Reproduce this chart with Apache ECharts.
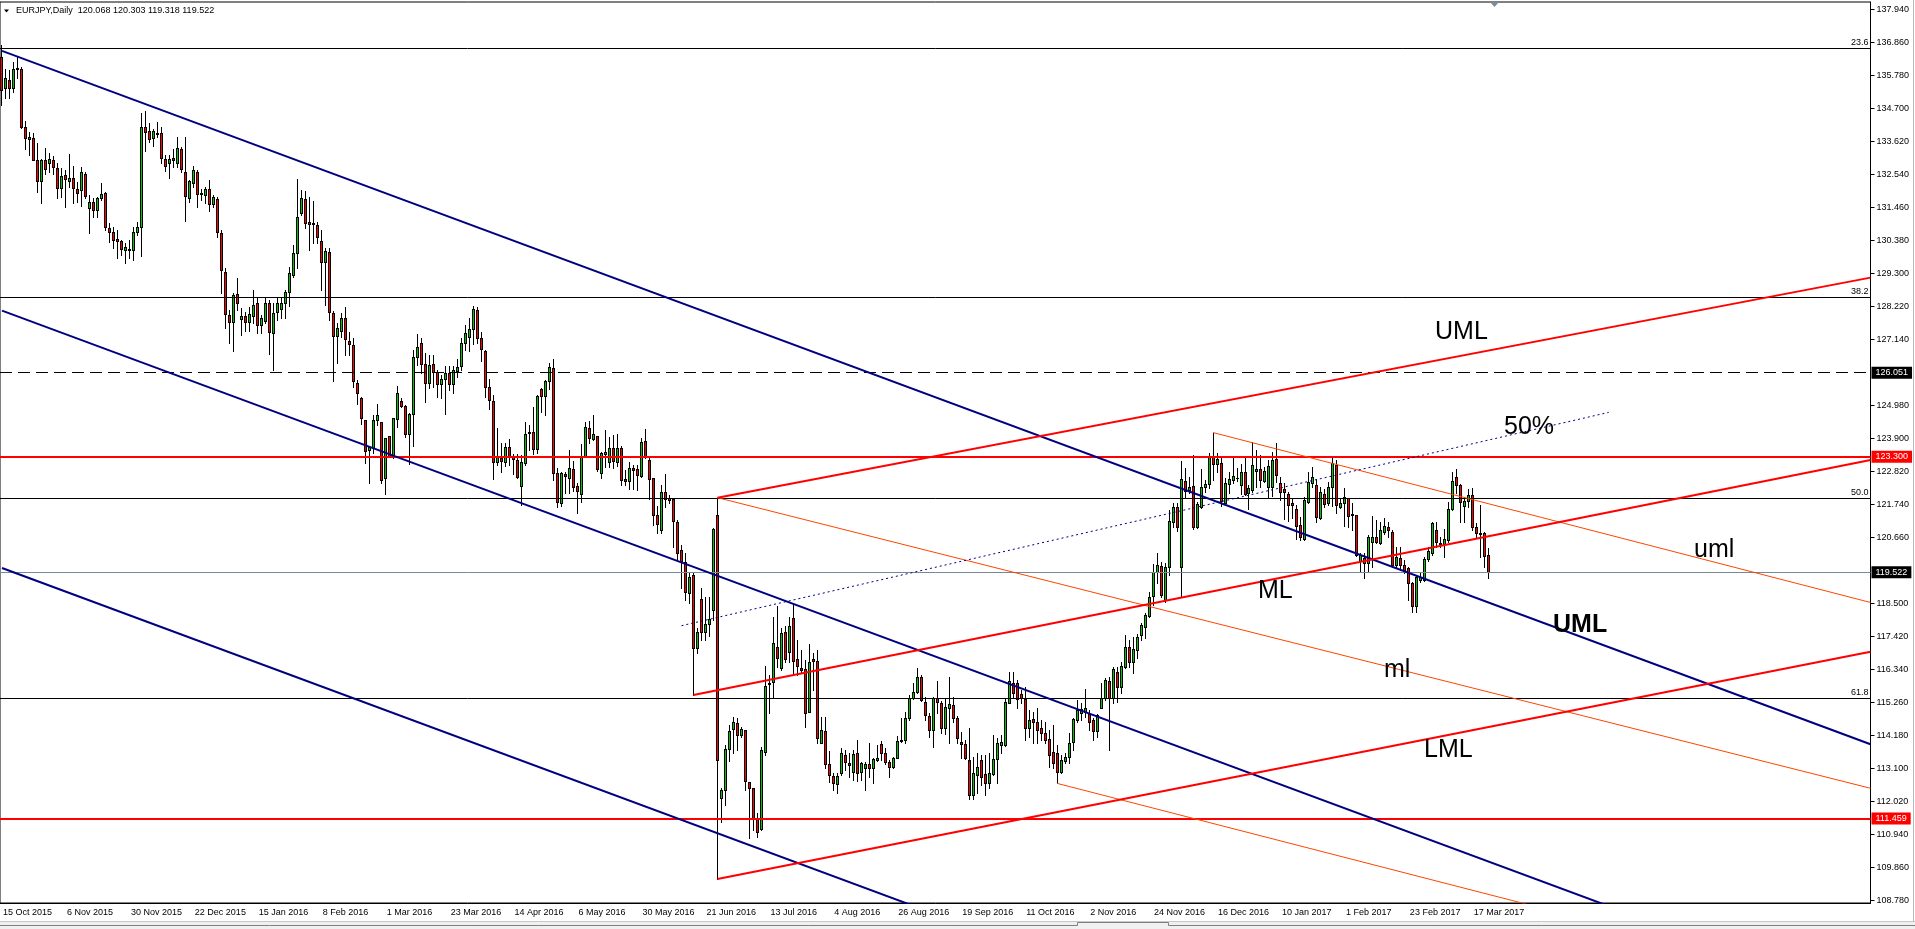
<!DOCTYPE html>
<html>
<head>
<meta charset="utf-8">
<script src="https://cdn.jsdelivr.net/npm/echarts@6/dist/echarts.min.js"></script>
<style>html,body{margin:0;padding:0;background:#fff;overflow:hidden}#c{width:1915px;height:929px}</style>
</head>
<body>
<div id="c"></div>
<script>
// ---------- tick labels ----------
const tickLabels = ['15 Oct 2015','6 Nov 2015','30 Nov 2015','22 Dec 2015','15 Jan 2016','8 Feb 2016','1 Mar 2016','23 Mar 2016','14 Apr 2016','6 May 2016','30 May 2016','21 Jun 2016','13 Jul 2016','4 Aug 2016','26 Aug 2016','19 Sep 2016','11 Oct 2016','2 Nov 2016','24 Nov 2016','16 Dec 2016','10 Jan 2017','1 Feb 2017','23 Feb 2017','17 Mar 2017'];
const yTicks = [137.94,136.86,135.78,134.70,133.62,132.54,131.46,130.38,129.30,128.22,127.14,124.98,123.90,122.82,121.74,120.66,118.50,117.42,116.34,115.26,114.18,113.10,112.02,110.94,109.86,108.78];

// ---------- EURJPY daily OHLC ----------
const open = [
136.39,135.35,135.63,135.35,136.01,135.98,134.10,133.69,133.72,133.01,
132.33,133.01,132.92,133.01,132.74,132.08,132.52,132.33,132.41,132.05,
132.03,132.54,131.43,131.64,131.37,131.77,131.92,130.77,130.64,130.42,
130.37,130.06,130.10,130.06,130.64,130.83,134.10,133.96,133.72,133.88,
133.90,133.03,132.90,133.08,132.90,133.37,132.63,131.76,132.27,132.63,
131.94,131.86,132.05,131.57,131.72,130.63,129.33,127.94,127.70,128.61,
127.80,127.90,127.72,127.90,128.32,127.61,127.75,128.32,127.34,128.04,
128.12,128.34,128.70,129.25,129.98,131.28,131.72,130.97,130.94,130.87,
130.35,129.66,130.00,127.99,127.26,127.42,127.83,127.09,126.95,125.72,
125.21,124.50,123.52,123.57,124.50,124.45,122.59,123.98,123.33,124.52,
125.12,124.96,124.04,124.69,126.55,127.01,126.33,125.70,126.33,126.08,
125.67,125.83,126.05,125.67,126.11,126.28,127.01,127.23,127.47,128.10,
127.17,126.76,125.59,125.12,123.12,123.25,123.14,123.61,123.32,123.19,
122.34,123.08,124.10,124.10,123.54,125.52,125.30,125.78,126.19,122.76,
121.79,122.73,122.59,122.90,122.34,122.07,123.32,124.23,123.87,123.98,
122.78,123.39,123.14,123.59,123.14,123.57,122.57,122.51,122.92,122.90,
122.67,123.81,123.19,122.59,121.39,120.90,122.15,121.94,121.90,121.17,
120.25,119.86,118.85,119.43,117.03,118.63,117.55,117.82,118.28,121.39,
112.12,112.39,113.73,114.38,114.58,114.19,114.36,112.66,112.45,111.47,
111.11,113.65,115.86,115.94,117.08,116.39,117.55,116.92,118.03,116.67,
116.38,116.34,114.96,116.67,116.61,113.94,114.33,113.24,112.86,112.59,
112.96,113.54,113.27,112.99,113.59,112.99,113.10,113.24,113.10,113.38,
113.89,113.59,113.32,113.15,113.45,114.00,114.03,114.74,115.39,115.61,
116.08,115.26,114.81,114.36,115.39,115.23,114.41,115.07,115.17,114.74,
113.97,113.89,113.38,112.23,112.88,113.38,112.91,112.61,112.91,113.40,
113.87,113.87,115.25,115.90,115.90,115.53,115.36,114.41,114.71,114.63,
114.41,114.25,114.05,113.65,113.61,112.99,113.35,113.48,113.97,114.68,
114.92,114.96,114.88,114.68,114.33,115.09,115.39,115.97,115.39,116.26,
115.75,116.41,117.06,116.59,116.97,117.47,117.74,118.09,118.74,119.54,
119.72,118.61,119.70,121.17,121.64,119.70,122.50,122.21,122.34,120.99,
121.66,122.30,122.41,123.28,123.06,123.10,121.80,122.41,122.54,122.61,
122.37,122.80,122.10,122.21,122.84,122.89,122.51,122.32,122.30,123.21,
122.43,122.23,122.08,121.77,121.59,121.06,120.60,121.83,122.43,122.37,
121.28,122.07,121.79,122.30,123.03,121.66,121.79,121.94,121.42,121.39,
119.90,119.99,119.83,120.52,120.68,120.49,120.85,120.99,120.85,119.76,
119.99,119.76,119.65,119.18,118.41,119.27,119.27,119.94,120.14,120.90,
120.47,120.44,120.57,121.58,122.63,122.37,121.69,121.86,122.05,121.00,
120.79,120.79,120.068];
const close = [
135.30,135.68,135.35,135.98,135.98,134.10,133.72,133.77,133.01,132.33,
133.01,132.70,133.03,132.77,132.08,132.49,132.38,132.43,132.08,131.94,
132.61,131.84,131.62,131.37,131.76,131.89,130.83,130.64,130.39,130.36,
130.10,130.15,130.05,130.64,130.81,134.10,133.93,133.69,133.96,133.87,
133.06,132.81,133.04,133.01,133.39,132.70,131.84,132.32,132.68,131.90,
131.90,132.05,131.57,131.81,130.66,129.41,127.98,127.72,128.59,128.32,
127.90,127.72,127.97,128.26,127.61,127.83,128.32,127.39,128.01,128.32,
128.34,128.70,129.30,129.98,131.15,131.76,130.94,130.91,130.90,130.48,
129.66,130.03,128.04,127.26,127.50,127.83,127.14,126.98,125.78,125.37,
124.56,123.50,123.62,124.50,124.66,122.54,123.90,123.32,124.56,125.37,
124.97,124.04,124.69,126.57,126.90,126.33,125.70,126.30,126.06,125.67,
125.83,126.05,125.67,126.14,126.23,127.03,127.36,127.47,128.12,127.18,
126.81,125.57,125.16,123.14,123.32,123.17,123.61,123.32,123.21,122.64,
123.12,124.03,124.07,123.54,125.29,125.30,125.78,126.23,122.76,121.83,
122.76,122.68,122.92,122.32,122.19,123.32,124.26,123.90,124.03,122.89,
123.41,123.46,123.59,123.17,123.57,122.54,122.51,122.92,122.86,122.70,
123.77,123.28,122.56,121.39,121.09,122.15,121.92,121.88,121.21,120.16,
119.90,118.88,119.37,117.03,117.55,117.57,117.83,117.98,120.92,113.38,
112.39,113.73,114.33,114.63,114.19,114.38,112.70,112.45,111.47,111.03,
113.70,115.80,115.90,117.19,116.70,117.54,116.67,117.76,116.62,116.46,
116.32,114.92,116.59,116.62,114.09,114.36,113.24,112.88,112.63,112.85,
113.59,113.32,113.21,113.57,112.96,113.27,113.24,113.10,113.40,113.45,
113.59,113.32,113.15,113.43,114.00,114.03,114.74,115.41,115.61,116.08,
115.34,114.85,114.36,115.39,115.28,114.41,115.12,115.21,114.76,114.09,
113.89,113.43,112.23,112.94,113.15,112.83,112.61,112.94,113.40,113.94,
113.97,115.28,115.97,115.56,115.36,115.39,114.41,114.68,114.63,114.36,
114.27,114.03,113.54,113.27,112.99,113.38,113.48,113.94,114.71,115.01,
115.03,115.07,114.63,114.33,114.85,115.39,115.99,115.39,116.34,115.77,
116.45,117.06,116.59,117.00,117.41,117.79,118.12,118.72,119.54,119.76,
118.77,119.70,121.20,121.64,121.01,122.56,122.19,122.30,121.01,121.74,
122.32,122.41,123.28,123.06,123.21,121.85,122.44,122.57,122.68,122.59,
122.80,122.08,122.27,123.03,122.89,122.54,122.83,122.99,123.19,122.70,
122.15,122.15,121.72,121.72,121.03,120.68,121.88,122.48,122.63,121.32,
122.15,121.75,122.32,123.08,121.72,121.77,121.97,121.36,121.40,120.08,
120.08,119.81,120.66,120.66,120.52,120.90,121.03,120.90,119.76,120.03,
119.76,119.59,119.18,118.41,119.35,119.35,119.94,120.22,121.14,120.52,
120.44,120.60,121.58,122.51,122.37,121.83,121.85,122.05,121.00,120.79,
120.77,120.06,119.522];
const low = [
134.81,135.03,135.03,135.24,135.68,134.05,133.36,133.17,133.01,131.97,
131.59,132.55,132.63,132.55,131.76,131.81,131.46,132.13,131.61,131.64,
131.50,131.76,130.63,131.15,131.15,131.70,130.72,130.33,130.12,129.79,
129.90,129.65,129.79,129.74,130.55,129.88,133.30,133.61,133.48,133.77,
132.92,132.66,132.43,132.79,132.79,132.63,131.02,131.64,132.13,131.48,
131.70,131.59,131.35,131.48,130.48,128.67,127.52,127.01,126.76,128.10,
127.28,127.42,127.42,127.66,127.34,127.36,127.66,126.65,126.14,127.77,
127.83,127.83,128.23,129.19,129.46,131.21,130.77,130.06,130.28,130.28,
128.75,128.26,127.77,125.79,126.38,127.21,126.63,126.63,125.59,125.01,
124.36,123.08,122.45,123.41,124.34,122.45,122.08,123.32,123.27,124.26,
124.94,123.95,123.06,123.66,126.30,126.05,125.10,125.54,125.59,125.26,
125.21,124.69,125.48,125.39,125.92,126.14,126.79,126.77,126.98,127.01,
126.44,125.24,124.85,122.56,123.03,122.81,123.00,123.03,122.73,122.59,
121.72,123.03,123.52,123.39,123.41,124.77,124.66,125.51,122.54,121.66,
121.69,122.10,122.10,122.19,121.47,121.83,123.28,123.74,123.85,122.84,
122.61,122.97,122.97,122.92,123.00,122.37,122.37,122.23,122.23,122.21,
122.64,123.25,121.91,121.06,120.81,120.79,121.66,121.77,120.34,119.92,
119.01,118.61,118.52,115.50,116.89,117.30,117.30,117.43,117.96,109.48,
111.36,111.90,113.34,113.59,113.70,114.14,112.39,110.81,111.08,110.87,
111.08,113.54,114.90,115.39,116.43,116.32,116.59,116.59,116.16,116.16,
116.21,114.46,114.96,115.67,113.92,113.92,113.11,112.66,112.39,112.30,
112.88,113.05,112.83,112.72,112.70,112.72,112.39,112.83,112.63,113.34,
113.38,113.23,112.81,113.10,113.43,113.97,113.94,114.68,115.36,115.56,
115.32,114.68,114.14,113.81,114.90,114.25,114.23,113.92,114.63,113.94,
113.43,113.40,112.09,112.09,112.30,112.56,112.23,112.45,112.88,112.61,
113.59,113.83,115.23,115.45,115.07,115.23,114.03,114.14,113.92,113.92,
114.03,113.92,113.15,113.10,112.61,112.94,113.27,113.27,113.70,114.63,
114.68,114.79,114.36,114.03,114.12,115.07,115.34,113.70,115.25,115.28,
115.56,116.38,116.43,116.21,116.70,117.30,117.38,118.06,118.45,119.16,
118.72,118.55,119.43,120.99,120.88,118.72,121.99,122.10,120.92,120.96,
121.61,122.15,122.27,122.54,122.81,121.69,121.72,122.10,122.43,122.50,
122.08,122.06,121.58,122.15,122.32,122.32,122.48,121.94,122.01,122.48,
121.88,121.25,121.21,121.28,120.60,120.57,120.57,121.77,122.32,121.17,
121.25,121.66,121.72,121.69,121.45,121.61,121.03,121.01,120.90,120.06,
119.54,119.32,119.54,119.70,120.47,120.44,120.77,120.68,119.70,119.65,
119.59,119.50,118.61,118.23,118.23,119.21,119.24,119.90,120.08,120.35,
120.35,120.03,120.52,121.55,122.10,121.17,121.17,121.66,120.90,120.68,
120.03,119.70,119.318];
const high = [
136.77,135.98,135.95,136.23,136.39,136.06,134.29,133.93,133.88,133.56,
133.03,133.39,133.23,133.14,132.90,132.74,132.68,133.20,132.81,132.30,
132.79,132.63,131.86,131.76,131.81,132.27,131.95,130.94,130.83,130.72,
130.39,130.28,130.39,130.83,130.97,134.54,134.61,134.21,134.02,134.26,
134.10,133.17,133.17,133.37,133.77,133.44,133.77,132.35,132.81,132.68,
132.05,132.13,132.35,131.86,131.81,130.72,129.46,128.10,128.65,129.14,
128.16,128.04,128.21,128.75,128.53,127.94,128.53,128.43,128.32,128.48,
128.53,128.75,129.52,130.23,132.39,132.03,131.99,131.81,131.67,130.99,
130.72,130.14,130.12,128.07,127.66,128.01,128.19,127.39,127.17,125.81,
125.26,124.50,123.65,124.66,125.01,124.45,123.90,123.98,124.56,125.61,
125.21,124.99,124.72,126.79,127.31,127.19,126.68,126.63,126.63,126.14,
125.97,126.27,126.27,126.27,126.49,127.17,127.61,127.83,128.24,128.21,
127.39,126.79,125.84,125.32,124.25,123.74,123.74,123.87,123.38,123.38,
123.36,124.45,124.34,124.94,125.32,125.56,125.81,126.36,126.50,122.92,
122.81,122.81,123.52,123.17,122.43,123.72,124.45,124.47,124.66,123.98,
123.46,124.17,123.93,124.01,124.03,123.65,122.86,123.14,123.03,123.03,
123.90,124.20,123.25,122.59,121.69,122.37,122.73,122.05,121.94,121.23,
120.41,120.16,119.50,119.48,117.68,118.99,118.72,118.70,120.96,121.96,
112.45,113.87,114.52,114.79,114.74,114.46,114.36,112.66,112.45,111.63,
113.79,116.45,116.16,118.06,118.41,117.68,117.76,118.06,118.50,117.30,
116.97,116.65,117.16,116.87,116.97,114.79,114.79,113.67,112.94,112.94,
113.78,113.70,113.59,113.70,114.03,113.32,113.32,113.94,113.45,113.87,
114.00,113.76,113.38,113.48,114.16,114.74,114.96,115.50,115.90,116.38,
116.16,115.43,114.90,115.45,115.96,115.32,115.39,116.10,115.43,114.81,
114.30,114.03,114.41,113.48,113.59,113.54,113.54,113.59,114.19,114.09,
114.19,115.39,116.26,116.26,115.99,115.67,115.77,115.01,114.96,115.07,
114.68,114.63,114.36,114.52,113.87,113.54,113.59,114.25,114.74,115.34,
115.23,115.69,115.01,114.74,114.88,115.88,116.05,116.10,116.43,116.43,
116.59,117.47,117.30,117.41,117.50,117.85,118.17,118.88,119.79,120.16,
119.86,119.81,121.56,121.77,121.79,123.17,122.92,122.64,123.36,121.83,
122.89,122.54,123.41,124.09,123.43,123.29,122.59,122.81,123.25,122.93,
123.06,123.25,122.37,123.79,123.52,123.36,122.97,123.19,123.46,123.76,
122.63,122.43,122.15,121.94,121.72,121.34,121.99,122.81,122.97,122.56,
122.32,122.23,122.48,123.32,123.19,121.90,122.27,121.96,121.77,121.39,
120.14,120.14,120.74,121.36,121.23,121.17,121.28,121.17,120.90,120.35,
120.35,119.92,119.70,119.21,119.43,119.48,120.03,120.35,121.17,121.17,
120.68,120.92,121.83,122.81,122.89,122.41,121.99,122.23,122.27,121.12,
121.72,120.85,120.303];

// ---------- drawn objects (bar index, price) ----------
const navyChannelTop = [[0, 136.58], [467.5, 113.89]];
const navyChannelMid = [[0, 128.08], [467.5, 105.42]];
const navyChannelLow = [[0, 119.66], [467.5, 96.99]];
const redUML = [[179, 121.96], [467.5, 129.16]];
const redML  = [[173, 115.50], [467.5, 123.19]];
const redLML = [[179, 109.48], [467.5, 116.92]];
const orangeUml = [[303, 124.09], [467.5, 118.53]];
const orangeMl  = [[179, 121.96], [467.5, 112.45]];
const orangeLml = [[264, 112.61], [467.5, 105.76]];
const dotted50  = [[170, 117.77], [402, 124.75]];
const fibLevels = [136.66, 128.53, 121.94, 115.40];
const fibNames  = ['23.6', '38.2', '50.0', '61.8'];
const dashedLevel = 126.051;
const redLevels = [123.300, 111.459];
const bidLevel = 119.522;

if (!(open.length === close.length && close.length === low.length && low.length === high.length)) {
  throw new Error('length mismatch ' + open.length + ' ' + close.length + ' ' + low.length + ' ' + high.length);
}

const N = 468;
const FONT = '"Liberation Sans", Arial, sans-serif';
const BULL = '#00c800', BEAR = '#ff0000';
const cats = Array.from({length: N}, (_, i) => String(i));
const showTick = (i) => i % 16 === 0 && i / 16 < tickLabels.length;
const candles = open.map((o, i) => [i, o, close[i], low[i], high[i]]);

function renderCandle(params, api) {
  const idx = api.value(0), o = api.value(1), c = api.value(2), l = api.value(3), h = api.value(4);
  const pO = api.coord([idx, o]), pC = api.coord([idx, c]);
  const x = Math.floor(pO[0]);
  const yH = Math.round(api.coord([idx, h])[1]);
  const yL = Math.round(api.coord([idx, l])[1]);
  const top = Math.round(Math.min(pO[1], pC[1]));
  const bot = Math.round(Math.max(pO[1], pC[1]));
  const children = [
    { type: 'rect', shape: { x: x, y: yH, width: 1, height: Math.max(1, yL - yH + 1) }, style: { fill: '#000' } },
    { type: 'rect', shape: { x: x - 1, y: top, width: 3, height: Math.max(1, bot - top + 1) }, style: { fill: '#000' } }
  ];
  if (bot - top >= 2) {
    children.push({ type: 'rect', shape: { x: x, y: top + 1, width: 1, height: bot - top - 1 }, style: { fill: c >= o ? BULL : BEAR } });
  }
  return { type: 'group', children: children };
}

function seg(pts, color, width, type) {
  return { type: 'line', xAxisIndex: 1, yAxisIndex: 0, data: pts, symbol: 'none', showSymbol: false,
    silent: true, z: 5, clip: true, animation: false,
    lineStyle: { color: color, width: width, type: type || 'solid' } };
}

const markData = [];
fibLevels.forEach((v, k) => markData.push({
  yAxis: v, lineStyle: { color: '#000', width: 1, type: 'solid' },
  label: { show: true, position: 'insideEndTop', formatter: fibNames[k], color: '#000', fontSize: 9, fontFamily: FONT, distance: [2, 1] }
}));
markData.push({
  yAxis: dashedLevel, lineStyle: { color: '#000', width: 1, type: [12, 6] },
  label: { show: true, position: 'end', distance: 1, formatter: dashedLevel.toFixed(3), color: '#fff', backgroundColor: '#000', padding: [2, 4, 1, 4], fontSize: 9, fontFamily: FONT }
});
redLevels.forEach(v => markData.push({
  yAxis: v, lineStyle: { color: '#ff0000', width: 2, type: 'solid' },
  label: { show: true, position: 'end', distance: 1, formatter: v.toFixed(3), color: '#fff', backgroundColor: '#ff0000', padding: [2, 4, 1, 4], fontSize: 9, fontFamily: FONT }
}));
markData.push({
  yAxis: bidLevel, lineStyle: { color: '#778899', width: 1, type: 'solid' },
  label: { show: true, position: 'end', distance: 1, formatter: bidLevel.toFixed(3), color: '#fff', backgroundColor: '#000', padding: [2, 4, 1, 4], fontSize: 9, fontFamily: FONT }
});

function txt(t, x, y, bold) {
  return { type: 'text', x: x, y: y, silent: true, z: 50,
    style: { text: t, font: (bold ? 'bold ' : '') + '25px ' + FONT, fill: '#000',
      align: 'left', verticalAlign: 'middle', textAlign: 'left', textVerticalAlign: 'middle' } };
}

const chart = echarts.init(document.getElementById('c'), null, { renderer: 'canvas', width: 1915, height: 929 });
chart.setOption({
  animation: false,
  backgroundColor: '#fff',
  grid: { left: -1.5, right: 44.5, top: 2, bottom: 26, show: true, borderColor: '#000', borderWidth: 1, backgroundColor: '#fff' },
  xAxis: [
    { type: 'category', data: cats, boundaryGap: true,
      axisLine: { onZero: false, lineStyle: { color: '#000', width: 1 } },
      axisTick: { alignWithLabel: true, interval: (i) => showTick(i), length: 4, lineStyle: { color: '#000' } },
      axisLabel: { interval: (i) => showTick(i), formatter: (v, i) => showTick(i) ? tickLabels[i / 16] : '',
        align: 'left', margin: 5, fontSize: 9, fontFamily: FONT, color: '#000', padding: [0, 0, 0, 1] },
      splitLine: { show: false } },
    { type: 'value', min: -0.5, max: N - 0.5, show: false }
  ],
  yAxis: [
    { type: 'value', position: 'right', min: 108.696, max: 138.179,
      axisLine: { show: true, onZero: false, lineStyle: { color: '#000', width: 1 } },
      axisTick: { show: true, customValues: yTicks, length: 4, lineStyle: { color: '#000' } },
      axisLabel: { customValues: yTicks, formatter: (v) => v.toFixed(3), margin: 6, fontSize: 9, fontFamily: FONT, color: '#000' },
      splitLine: { show: false } }
  ],
  series: [
    { type: 'custom', xAxisIndex: 0, yAxisIndex: 0, data: candles, renderItem: renderCandle, z: 2, silent: true, animation: false, clip: true,
      encode: { x: 0, y: [1, 2, 3, 4] },
      markLine: { symbol: ['none', 'none'], silent: true, animation: false, data: markData } },
    seg(navyChannelTop, '#000080', 2),
    seg(navyChannelMid, '#000080', 2),
    seg(navyChannelLow, '#000080', 2),
    seg(orangeUml, '#ff4500', 1),
    seg(orangeMl, '#ff4500', 1),
    seg(orangeLml, '#ff4500', 1),
    seg(redUML, '#ff0000', 2),
    seg(redML, '#ff0000', 2),
    seg(redLML, '#ff0000', 2),
    seg(dotted50, '#000080', 1, [2, 3])
  ],
  graphic: { elements: [
    { type: 'polygon', silent: true, shape: { points: [[4, 9.5], [9, 9.5], [6.5, 12.5]] }, style: { fill: '#000' } },
    { type: 'text', x: 16, y: 11, silent: true, style: { text: 'EURJPY,Daily  120.068 120.303 119.318 119.522', font: '9px ' + FONT, fill: '#000', align: 'left', verticalAlign: 'middle', textAlign: 'left', textVerticalAlign: 'middle' } },
    { type: 'polygon', silent: true, shape: { points: [[1490, 2], [1499, 2], [1494.5, 7]] }, style: { fill: '#7b8a9c' } },
    { type: 'rect', silent: true, shape: { x: 0, y: 921, width: 1915, height: 8 }, style: { fill: '#f0f0f0' } },
    { type: 'line', silent: true, shape: { x1: 0, y1: 921.5, x2: 1915, y2: 921.5 }, style: { stroke: '#c8c8c8', lineWidth: 1 } },
    { type: 'polyline', silent: true, shape: { points: [[0, 925.5], [1077.5, 925.5], [1077.5, 922.5], [1168.5, 922.5], [1168.5, 925.5], [1915, 925.5]] }, style: { stroke: '#808080', fill: null, lineWidth: 1 } },
    { type: 'line', silent: true, shape: { x1: 1913.5, y1: 0, x2: 1913.5, y2: 921 }, style: { stroke: '#b8b8b8', lineWidth: 1 } },
    txt('UML', 1435, 332, false),
    txt('50%', 1504, 427, false),
    txt('uml', 1694, 550, false),
    txt('ML', 1258, 591, false),
    txt('UML', 1553, 625, true),
    txt('ml', 1384, 670, false),
    txt('LML', 1424, 750, false)
  ] }
});
</script>
</body>
</html>
